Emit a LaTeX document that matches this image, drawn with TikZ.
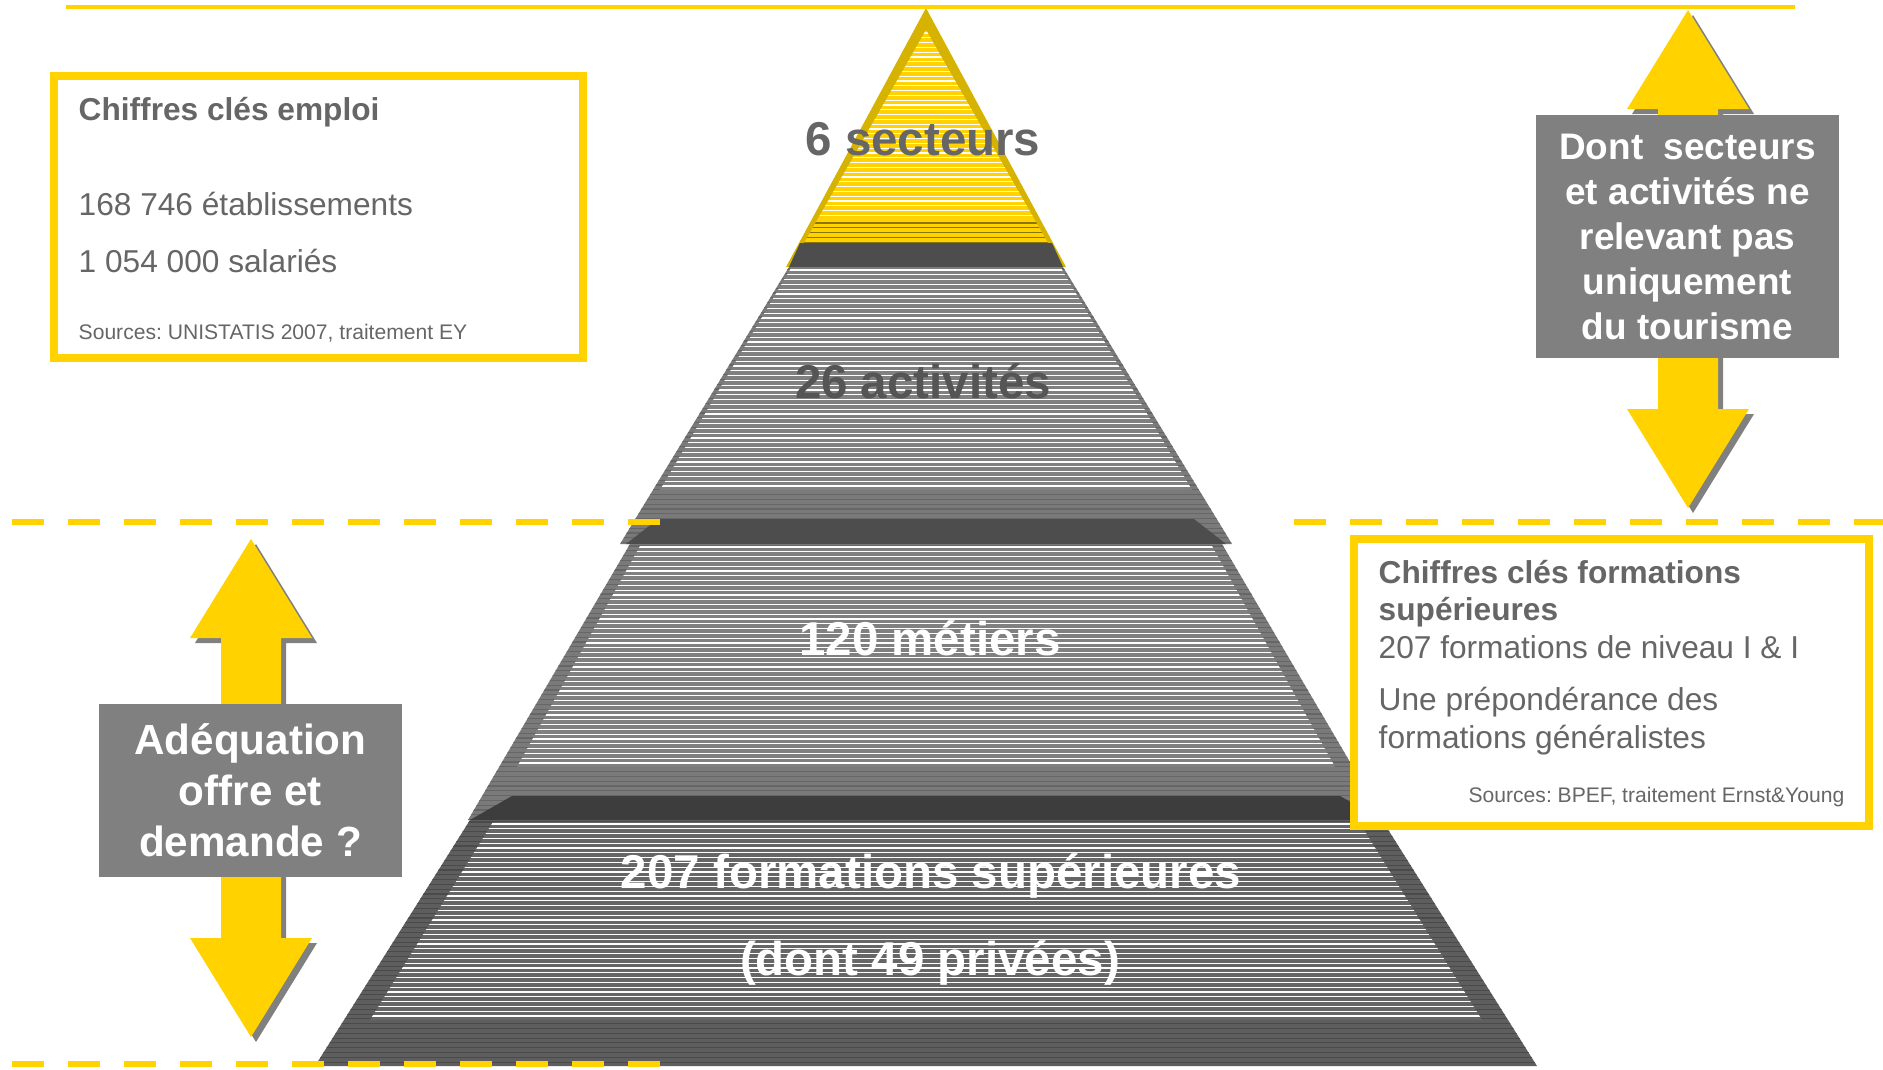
\documentclass[tikz,border=0pt]{standalone}
\usepackage{fontspec}
\setmainfont{Liberation Sans}
\usepackage{tikz}
\frenchspacing

\definecolor{eyyellow}{HTML}{FFD200}
\definecolor{eygold}{HTML}{D6B300}
\definecolor{eybrown}{HTML}{8C7400}
\definecolor{midgray}{HTML}{808080}
\definecolor{edgegray}{HTML}{7A7A7A}
\definecolor{linegray}{HTML}{666666}
\definecolor{deepgray}{HTML}{666666}
\definecolor{deepedge}{HTML}{5E5E5E}
\definecolor{deepline}{HTML}{4A4A4A}
\definecolor{bandgray}{HTML}{4D4D4D}
\definecolor{banddark}{HTML}{3D3D3D}
\definecolor{textgray}{HTML}{666666}

\tikzset{
  keybox/.style={draw=eyyellow, line width=0.08cm, fill=white, inner sep=0pt},
  labelbox/.style={fill=midgray, text=white, align=center, inner sep=0pt},
  tierlabel/.style={font=\fontsize{13.5}{16}\selectfont\bfseries, anchor=base, inner sep=0pt},
  keytitle/.style={font=\fontsize{9}{10.5}\selectfont\bfseries, text=textgray, anchor=base west, inner sep=0pt},
  keytext/.style={font=\fontsize{9}{10.5}\selectfont, text=textgray, anchor=base west, inner sep=0pt},
  keysource/.style={font=\fontsize{6}{7}\selectfont, text=textgray, inner sep=0pt},
  guide/.style={eyyellow, line width=0.065cm, dash pattern=on 0.32cm off 0.24cm},
  whiteline/.style={white, line width=0.35pt},
  darkline/.style={line width=0.3pt}
}

% double block arrow with its shadow: x, top y, bottom y
\newcommand{\yellowarrow}[3]{%
  \foreach \s/\c in {5/midgray,0/eyyellow}
    \fill[\c, shift={(\s,\s)}] (#1,#2) -- (#1+61,#2+99) -- (#1+30,#2+99)
      -- (#1+30,#3-99) -- (#1+61,#3-99) -- (#1,#3) -- (#1-61,#3-99)
      -- (#1-30,#3-99) -- (#1-30,#2+99) -- (#1-61,#2+99) -- cycle;
}

\begin{document}
\begin{tikzpicture}[x=0.01cm, y=-0.01cm]
  \useasboundingbox (0,0) rectangle (1883,1069);

  % top tier (yellow)
  \fill[eygold] (926,8) -- (1066,267) -- (786,267) -- cycle;
  \begin{scope}
    \clip (926,30) -- (1048,243) -- (804,243) -- cycle;
    \fill[eyyellow] (780,20) rectangle (1070,245);
    \foreach \y in {33,37.8,...,219} \draw[whiteline] (780,\y) -- (1070,\y);
    \foreach \y in {223,227.8,...,243} \draw[darkline, eybrown] (780,\y) -- (1070,\y);
  \end{scope}
  \fill[bandgray] (800,243) -- (1052,243) -- (1063,267) -- (789,267) -- cycle;

  % second tier
  \begin{scope}
    \clip (789,267) -- (1063,267) -- (1232,544) -- (620,544) -- cycle;
    \fill[edgegray] (600,260) rectangle (1250,550);
    \foreach \y in {269,273.8,...,544} \draw[darkline, linegray] (600,\y) -- (1250,\y);
  \end{scope}
  \begin{scope}
    \clip (791,268) -- (1061,268) -- (1192,490) -- (660,490) -- cycle;
    \fill[midgray] (600,260) rectangle (1250,550);
    \foreach \y in {270,274.8,...,490} \draw[whiteline] (600,\y) -- (1250,\y);
  \end{scope}
  \fill[bandgray] (658,519) -- (1194,519) -- (1226,544) -- (626,544) -- cycle;

  % third tier
  \begin{scope}
    \clip (630,544) -- (1222,544) -- (1384,820) -- (468,820) -- cycle;
    \fill[edgegray] (450,540) rectangle (1400,825);
    \foreach \y in {546,550.8,...,820} \draw[darkline, linegray] (450,\y) -- (1400,\y);
  \end{scope}
  \begin{scope}
    \clip (640,546) -- (1212,546) -- (1335,767) -- (517,767) -- cycle;
    \fill[midgray] (450,540) rectangle (1400,825);
    \foreach \y in {547,551.8,...,767} \draw[whiteline] (450,\y) -- (1400,\y);
  \end{scope}
  \fill[banddark] (512,796) -- (1340,796) -- (1382,820) -- (470,820) -- cycle;

  % bottom tier
  \begin{scope}
    \clip (470,820) -- (1382,820) -- (1537,1066) -- (315,1066) -- cycle;
    \fill[deepedge] (300,815) rectangle (1550,1069);
    \foreach \y in {822,826.8,...,1066} \draw[darkline, deepline] (300,\y) -- (1550,\y);
  \end{scope}
  \begin{scope}
    \clip (493,822) -- (1359,822) -- (1482,1020) -- (370,1020) -- cycle;
    \fill[deepgray] (300,815) rectangle (1550,1069);
    \foreach \y in {824,828.8,...,1020} \draw[whiteline] (300,\y) -- (1550,\y);
  \end{scope}

  % tier labels
  \node[tierlabel, text=textgray] (secteurs) at (923,155) {6 secteurs};
  \node[tierlabel, text=deepline!80!midgray] (activites) at (923,398) {26 activités};
  \node[tierlabel, text=white] (metiers) at (930,655) {120 métiers};
  \node[tierlabel, text=white] (formations) at (931,888) {207 formations supérieures};
  \node[tierlabel, text=white] (privees) at (930,975) {(dont 49 privées)};

  % guide lines
  \draw[eyyellow, line width=0.04cm] (66,7) -- (1795,7);
  \draw[guide] (12,522) -- (660,522);
  \draw[guide] (1294,522) -- (1883,522);
  \draw[guide] (12,1064) -- (660,1064);

  % block arrows
  \yellowarrow{1688}{10}{508}
  \yellowarrow{251}{539}{1037}

  % grey label boxes
  \node[labelbox, minimum width=3.03cm, minimum height=2.43cm,
        font=\fontsize{10.5}{12.8}\selectfont\bfseries] (tourisme) at (1687.5,236.5)
        {Dont\ \ secteurs\\et activités ne\\relevant pas\\uniquement\\du tourisme};
  \node[labelbox, minimum width=3.03cm, minimum height=1.73cm,
        font=\fontsize{12}{14.5}\selectfont\bfseries] (adequation) at (250.5,790.5)
        {Adéquation\\offre et\\demande ?};

  % key figures: employment
  \node[keybox, minimum width=5.29cm, minimum height=2.82cm] (emploi) at (318.5,217) {};
  \node[keytitle] (emploititle) at (78,120) {Chiffres clés emploi};
  \node[keytext] (etab) at (78,215) {168 746 établissements};
  \node[keytext] (salaries) at (78,272) {1 054 000 salariés};
  \node[keysource, anchor=base west] (emploisrc) at (78,339) {Sources: UNISTATIS 2007, traitement EY};

  % key figures: higher education
  \node[keybox, minimum width=5.15cm, minimum height=2.87cm] (formation) at (1611.5,682.5) {};
  \node[keytitle] (formtitle) at (1378,583) {Chiffres clés formations};
  \node[keytitle] (formtitleb) at (1378,620) {supérieures};
  \node[keytext] (niveau) at (1378,658) {207 formations de niveau I \& I};
  \node[keytext] (prepond) at (1378,710) {Une prépondérance des};
  \node[keytext] (general) at (1378,748) {formations généralistes};
  \node[keysource, anchor=base east] (formsrc) at (1845,802) {Sources: BPEF, traitement Ernst\&Young};
\end{tikzpicture}
\end{document}
